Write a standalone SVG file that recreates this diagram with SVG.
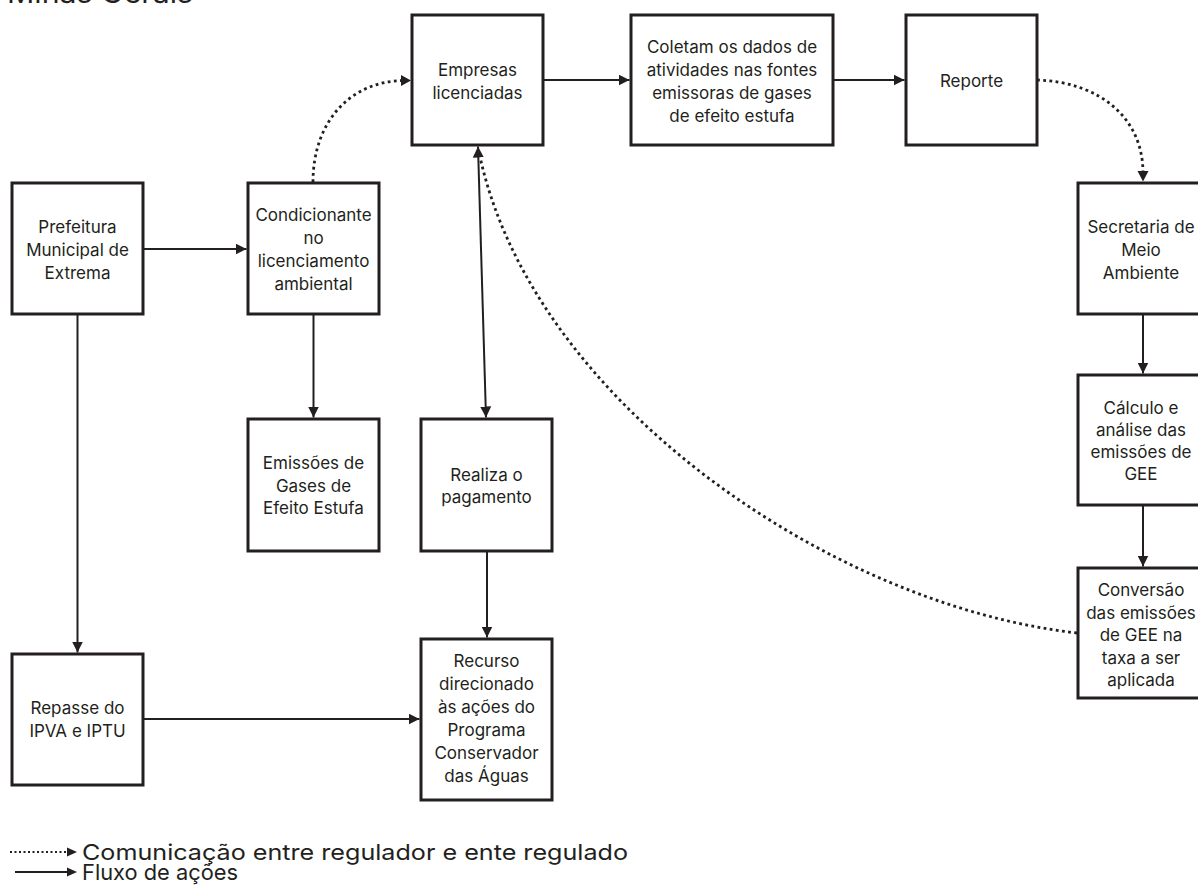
<svg xmlns="http://www.w3.org/2000/svg" width="1198" height="891" viewBox="0 0 1198 891">
<style>
.box{fill:#fff;stroke:#231f20;stroke-width:3}
.lbl{font-family:Inter,"Liberation Sans",sans-serif;font-size:17px;fill:#231f20;text-anchor:middle}
.flow{fill:none;stroke:#231f20;stroke-width:2}
.dot{fill:none;stroke:#231f20;stroke-width:2.8;stroke-dasharray:2.8 3.4}
.leg{font-family:Inter,"Liberation Sans",sans-serif;font-size:22px;fill:#231f20}
</style>
<defs>
<marker id="ah" viewBox="0 0 10 10" refX="10" refY="5" markerWidth="11" markerHeight="11" markerUnits="userSpaceOnUse" orient="auto-start-reverse">
<path d="M0,0 L10,5 L0,10 z" fill="#231f20"/>
</marker>
</defs>
<rect width="1198" height="891" fill="#fff"/>
<text x="7" y="3" style="font-family:Inter,'Liberation Sans',sans-serif;font-size:28px;fill:#231f20" textLength="186" lengthAdjust="spacingAndGlyphs">Minas Gerais</text>

<g id="connectors">
<line class="flow" x1="143" y1="249" x2="246.5" y2="249" marker-end="url(#ah)"/>
<line class="flow" x1="543" y1="80" x2="629.5" y2="80" marker-end="url(#ah)"/>
<line class="flow" x1="833" y1="80" x2="904.5" y2="80" marker-end="url(#ah)"/>
<line class="flow" x1="313.5" y1="314" x2="313.5" y2="417.5" marker-end="url(#ah)"/>
<line class="flow" x1="77.5" y1="314" x2="77.5" y2="652.5" marker-end="url(#ah)"/>
<line class="flow" x1="143" y1="719" x2="419.5" y2="719" marker-end="url(#ah)"/>
<line class="flow" x1="487" y1="551" x2="487" y2="637.5" marker-end="url(#ah)"/>
<line class="flow" x1="478" y1="146.5" x2="486" y2="417.5" marker-start="url(#ah)" marker-end="url(#ah)"/>
<line class="flow" x1="1143" y1="314" x2="1143" y2="373.5" marker-end="url(#ah)"/>
<line class="flow" x1="1143" y1="505" x2="1143" y2="566.5" marker-end="url(#ah)"/>
<path class="dot" d="M313,182 C313,122 350,81 404,80.5"/>
<path d="M401,75 L411,80.5 L401,86 z" fill="#231f20"/>
<path class="dot" d="M1037,80 C1100,82 1143,118 1143,173"/>
<path d="M1137.5,171 L1143,181.5 L1148.5,171 z" fill="#231f20"/>
<path class="dot" d="M1077,633 C830,605 530,400 479,152"/>
</g>

<g id="prefeitura"><rect class="box" x="12" y="183" width="131" height="131"/>
<text class="lbl"><tspan x="77.5" y="233">Prefeitura</tspan><tspan x="77.5" y="256">Municipal de</tspan><tspan x="77.5" y="279">Extrema</tspan></text></g>

<g id="condicionante"><rect class="box" x="248" y="183" width="131" height="131"/>
<text class="lbl"><tspan x="313.5" y="221">Condicionante</tspan><tspan x="313.5" y="244">no</tspan><tspan x="313.5" y="267">licenciamento</tspan><tspan x="313.5" y="290">ambiental</tspan></text></g>

<g id="empresas"><rect class="box" x="412" y="15" width="131" height="130"/>
<text class="lbl"><tspan x="477.5" y="76">Empresas</tspan><tspan x="477.5" y="99">licenciadas</tspan></text></g>

<g id="coletam"><rect class="box" x="631" y="15" width="202" height="130"/>
<text class="lbl"><tspan x="732" y="53">Coletam os dados de</tspan><tspan x="732" y="76">atividades nas fontes</tspan><tspan x="732" y="99">emissoras de gases</tspan><tspan x="732" y="122">de efeito estufa</tspan></text></g>

<g id="reporte"><rect class="box" x="906" y="15" width="131" height="130"/>
<text class="lbl"><tspan x="971.5" y="87">Reporte</tspan></text></g>

<g id="secretaria"><rect class="box" x="1078" y="183" width="131" height="131"/>
<text class="lbl"><tspan x="1141" y="233">Secretaria de</tspan><tspan x="1141" y="256">Meio</tspan><tspan x="1141" y="279">Ambiente</tspan></text></g>

<g id="calculo"><rect class="box" x="1078" y="375" width="131" height="130"/>
<text class="lbl"><tspan x="1141" y="414">Cálculo e</tspan><tspan x="1141" y="436">análise das</tspan><tspan x="1141" y="458">emissões de</tspan><tspan x="1141" y="480">GEE</tspan></text></g>

<g id="conversao"><rect class="box" x="1078" y="568" width="131" height="130"/>
<text class="lbl"><tspan x="1141" y="596">Conversão</tspan><tspan x="1141" y="618.5">das emissões</tspan><tspan x="1141" y="641">de GEE na</tspan><tspan x="1141" y="663.5">taxa a ser</tspan><tspan x="1141" y="686">aplicada</tspan></text></g>

<g id="emissoes"><rect class="box" x="248" y="419" width="131" height="132"/>
<text class="lbl"><tspan x="313.5" y="469">Emissões de</tspan><tspan x="313.5" y="492">Gases de</tspan><tspan x="313.5" y="514">Efeito Estufa</tspan></text></g>

<g id="realiza"><rect class="box" x="421" y="419" width="131" height="132"/>
<text class="lbl"><tspan x="486.5" y="481">Realiza o</tspan><tspan x="486.5" y="503">pagamento</tspan></text></g>

<g id="repasse"><rect class="box" x="12" y="654" width="131" height="131"/>
<text class="lbl"><tspan x="77.5" y="714">Repasse do</tspan><tspan x="77.5" y="737">IPVA e IPTU</tspan></text></g>

<g id="recurso"><rect class="box" x="421" y="639" width="131" height="161"/>
<text class="lbl"><tspan x="486.5" y="667">Recurso</tspan><tspan x="486.5" y="690">direcionado</tspan><tspan x="486.5" y="713">às ações do</tspan><tspan x="486.5" y="736">Programa</tspan><tspan x="486.5" y="759">Conservador</tspan><tspan x="486.5" y="782">das Águas</tspan></text></g>

<g id="legend">
<line x1="10" y1="852" x2="68" y2="852" style="fill:none;stroke:#231f20;stroke-width:2;stroke-dasharray:2 2.5"/>
<path d="M67,847.5 L77,852 L67,856.5 z" fill="#231f20"/>
<line class="flow" x1="15" y1="872" x2="68" y2="872"/>
<path d="M67,867.5 L77,872 L67,876.5 z" fill="#231f20"/>
<text class="leg" x="82" y="860" textLength="546" lengthAdjust="spacingAndGlyphs">Comunicação entre regulador e ente regulado</text>
<text class="leg" x="82" y="880" textLength="156" lengthAdjust="spacingAndGlyphs">Fluxo de ações</text>
</g>
</svg>
